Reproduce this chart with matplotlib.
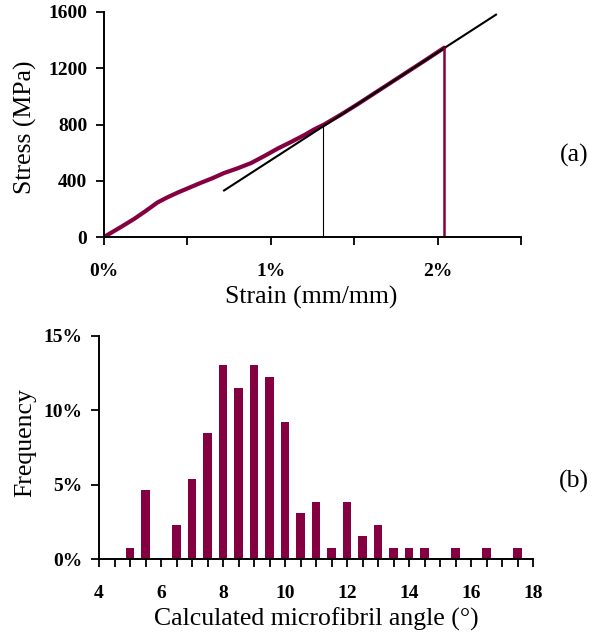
import numpy as np
import matplotlib.pyplot as plt
from matplotlib.ticker import FuncFormatter

# stress-strain curve, (a)
strain = [0.0, 0.1, 0.18, 0.25, 0.32, 0.38, 0.44, 0.5, 0.58, 0.65, 0.72, 0.8, 0.88,
          0.96, 1.04, 1.12, 1.20, 1.26, 1.32, 1.42, 1.52, 1.62, 1.72, 1.82, 1.92, 2.04]
stress = [0, 70, 128, 185, 245, 282, 315, 345, 385, 418, 455, 488, 525,
          575, 628, 675, 724, 765, 800, 870, 944, 1021, 1098, 1175, 1252, 1346]
tangent_strain = [0.72, 2.35]
tangent_stress = [331, 1581]
yield_strain = 1.31
yield_stress = 790

# microfibril angle histogram, (b)
angles = [5, 5.5, 6.5, 7, 7.5, 8, 8.5, 9, 9.5, 10, 10.5, 11, 11.5, 12, 12.5, 13,
          13.5, 14, 14.5, 15.5, 16.5, 17.5]
freq = [0.74, 4.64, 2.29, 5.38, 8.47, 13.05, 11.5, 13.05, 12.26, 9.19, 3.12, 3.86,
        0.74, 3.86, 1.57, 2.29, 0.74, 0.74, 0.74, 0.74, 0.74, 0.74]

purple = '#850040'
plt.rcParams['font.family'] = ['Liberation Serif', 'DejaVu Serif']

W, H = 616, 638
fig = plt.figure(figsize=(W / 100, H / 100), dpi=100)

def px_axes(l, t, r, b):
    return fig.add_axes([l / W, 1 - b / H, (r - l) / W, (b - t) / H])

def style(ax):
    for s in ['top', 'right']:
        ax.spines[s].set_visible(False)
    for s in ['left', 'bottom']:
        ax.spines[s].set_linewidth(1.4)
    ax.tick_params(direction='out', length=6, width=1.3, labelsize=14)
    for lab in ax.get_xticklabels() + ax.get_yticklabels():
        lab.set_fontweight('bold')

# --- (a)
ax1 = px_axes(104, 12, 521, 237)
ax1.plot(strain, stress, color=purple, lw=3, solid_capstyle='round')
ax1.plot(tangent_strain, tangent_stress, color='black', lw=1.5)
ax1.plot([yield_strain, yield_strain], [0, yield_stress], color='black', lw=0.8)
ax1.plot([strain[-1], strain[-1]], [0, stress[-1]], color=purple, lw=1.8)
ax1.set_xlim(0, 2.5)
ax1.set_ylim(0, 1600)
ax1.set_xticks([0, 0.5, 1, 1.5, 2, 2.5])
ax1.set_xticklabels(['0%', '', '1%', '', '2%', ''])
ax1.set_yticks([0, 400, 800, 1200, 1600])
style(ax1)
ax1.tick_params(axis='x', pad=13)
ax1.tick_params(axis='y', pad=6)

# --- (b)
ax2 = px_axes(99, 336, 533, 559)
ax2.bar(angles, freq, width=0.28, color=purple)
ax2.set_xlim(4, 18)
ax2.set_ylim(0, 15)
ax2.set_xticks(np.arange(4, 18.01, 0.5))
ax2.set_xticklabels([str(int(v)) if v % 2 == 0 else '' for v in np.arange(4, 18.01, 0.5)])
ax2.set_yticks([0, 5, 10, 15])
ax2.yaxis.set_major_formatter(FuncFormatter(lambda v, p: f'{v:.0f}%'))
style(ax2)
ax2.tick_params(axis='x', pad=13)
ax2.tick_params(axis='y', pad=6)

lab = dict(fontsize=18.5, ha='center', va='center')
fig.text(25 / W, 1 - 127 / H, 'Stress (MPa)', rotation=90, **lab)
fig.text(311 / W, 1 - 297 / H, 'Strain (mm/mm)', **lab)
fig.text(25 / W, 1 - 443 / H, 'Frequency', rotation=90, **lab)
fig.text(316 / W, 1 - 619 / H, 'Calculated microfibril angle (°)', **lab)
fig.text(574 / W, 1 - 155 / H, '(a)', **lab)
fig.text(574 / W, 1 - 481 / H, '(b)', **lab)

fig.savefig('out.png', dpi=100)
